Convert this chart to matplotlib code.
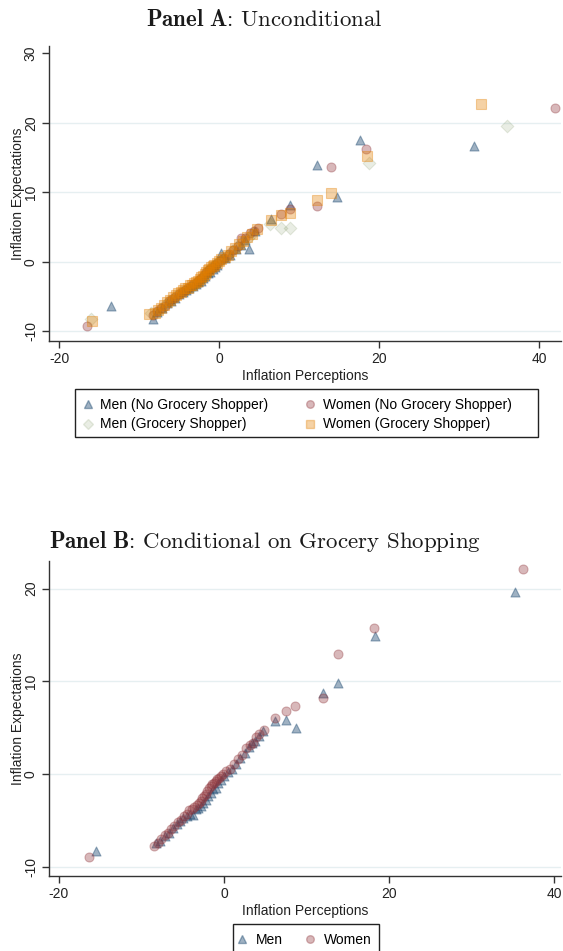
import matplotlib
matplotlib.use("Agg")
import matplotlib.pyplot as plt
from matplotlib.lines import Line2D
from matplotlib.patches import Rectangle

plt.rcParams['font.family'] = ['Liberation Sans', 'DejaVu Sans']
plt.rcParams['axes.unicode_minus'] = False
plt.rcParams['mathtext.fontset'] = 'cm'

# ---------------- Panel A data ----------------
a_men_ns_x = [-13.5, -8.2, -7.7, -7.1, -6.5, -6.0, -5.5, -5.0, -4.5, -4.1, -3.7, -3.3, -2.9, -2.6, -2.3,
              -2.0, -1.7, -1.4, -1.1, -0.8, -0.5, -0.2, 0.3, 0.8, 1.4, 2.1, 2.7, 3.2, 3.7, 4.5,
              6.5, 8.9, 12.3, 14.8, 17.6, 31.9]
a_men_ns_y = [-6.3, -8.3, -7.2, -6.6, -6.0, -5.6, -5.2, -4.7, -4.3, -4.0, -3.8, -3.5, -3.2, -2.9, -2.7,
              -2.4, -2.0, -1.6, -1.5, -1.0, -0.7, -0.4, 1.2, 0.5, 1.0, 1.8, 2.4, 3.1, 1.8, 4.4,
              6.2, 8.2, 14.0, 9.4, 17.6, 16.7]

a_women_ns_x = [-16.5, -8.2, -7.8, -7.3, -6.8, -6.3, -5.9, -5.5, -5.0, -4.6, -4.3, -3.9, -3.5, -3.2, -2.8,
                -2.5, -2.2, -1.9, -1.6, -1.3, -1.1, -0.8, -0.5, -0.2, 0.2, 0.6, 1.2, 1.8, 2.4, 2.8,
                3.3, 3.9, 4.4, 4.9, 7.8, 8.9, 12.2, 14.0, 18.4, 42.0]
a_women_ns_y = [-9.2, -7.7, -7.1, -6.7, -6.3, -5.7, -5.3, -5.0, -4.6, -4.3, -4.0, -3.8, -3.5, -3.2, -2.9,
                -2.6, -2.3, -1.9, -1.5, -1.2, -1.0, -0.7, -0.5, -0.2, 0.2, 0.5, 1.1, 1.7, 2.3, 3.4,
                3.5, 4.1, 4.5, 4.9, 6.9, 7.6, 8.1, 13.7, 16.2, 22.2]

a_men_gs_x = [-16.0, -8.5, -7.9, -7.3, -6.7, -6.2, -5.7, -5.2, -4.7, -4.3, -3.9, -3.5, -3.1, -2.7, -2.4,
              -2.1, -1.8, -1.5, -1.2, -0.9, -0.6, -0.3, 0.1, 0.5, 1.0, 1.6, 2.2, 2.9, 3.6, 4.3,
              6.4, 7.8, 8.9, 18.7, 36.0]
a_men_gs_y = [-8.3, -7.3, -7.4, -6.8, -6.2, -5.7, -5.3, -4.8, -4.4, -4.1, -3.8, -3.6, -3.3, -2.9, -2.6,
              -2.3, -1.9, -1.5, -1.1, -0.8, -0.5, -0.2, 0.1, 0.4, 0.9, 1.5, 2.1, 2.8, 3.5, 4.2,
              5.5, 4.85, 4.85, 14.2, 19.6]

a_women_gs_x = [-15.9, -8.7, -8.0, -7.6, -7.2, -6.9, -6.5, -6.1, -5.8, -5.4, -5.1, -4.8, -4.5, -4.2, -3.9,
                -3.6, -3.4, -3.1, -2.9, -2.6, -2.4, -2.2, -2.0, -1.8, -1.6, -1.4, -1.2, -1.0, -0.8, -0.6,
                -0.3, 0.0, 0.3, 0.7, 1.1, 1.5, 2.0, 2.5, 3.0, 3.5, 4.1, 4.7,
                6.5, 7.8, 8.9, 12.3, 14.0, 18.5, 32.8]
a_women_gs_y = [-8.5, -7.5, -7.3, -6.9, -6.6, -6.2, -5.8, -5.5, -5.1, -4.8, -4.5, -4.3, -4.1, -3.8, -3.7,
                -3.4, -3.3, -3.1, -2.9, -2.7, -2.5, -2.2, -2.0, -1.7, -1.4, -1.2, -1.0, -0.8, -0.6, -0.4,
                -0.1, 0.1, 0.4, 0.7, 1.0, 1.5, 2.0, 2.5, 3.0, 3.6, 4.0, 4.7,
                6.0, 6.8, 7.1, 8.9, 9.9, 15.2, 22.7]

# ---------------- Panel B data ----------------
b_men_x = [-15.5, -8.2, -7.8, -7.2, -6.7, -6.2, -5.7, -5.3, -4.9, -4.5, -4.1, -3.7, -3.4, -3.1, -2.8, -2.5,
           -2.2, -1.9, -1.6, -1.3, -1.0, -0.7, -0.4, 0.0, 0.5, 1.0, 1.5, 2.0, 2.5, 3.0, 3.4, 3.8,
           4.2, 4.7, 6.2, 7.5, 8.7, 12.0, 13.8, 18.3, 35.3]
b_men_y = [-8.3, -7.4, -7.2, -6.7, -6.3, -5.8, -5.4, -5.0, -4.7, -4.5, -4.3, -4.4, -3.8, -3.6, -3.4, -3.1,
           -2.8, -2.4, -2.0, -1.6, -1.5, -1.0, -0.6, -0.2, 0.2, 0.6, 1.1, 1.7, 2.3, 2.9, 3.4, 3.6,
           4.1, 4.7, 5.7, 5.8, 5.0, 8.8, 9.8, 14.9, 19.6]

b_women_x = [-16.3, -8.5, -8.0, -7.6, -7.2, -6.8, -6.4, -6.0, -5.6, -5.2, -4.8, -4.5, -4.2, -3.9, -3.6, -3.3,
             -3.0, -2.8, -2.6, -2.4, -2.2, -2.0, -1.8, -1.6, -1.4, -1.2, -1.0, -0.8, -0.6, -0.4, -0.1,
             0.3, 0.7, 1.2, 1.7, 2.2, 2.7, 3.1, 3.5, 3.9, 4.3, 4.8,
             6.2, 7.5, 8.6, 12.0, 13.8, 18.2, 36.3]
b_women_y = [-8.9, -7.7, -7.4, -7.0, -6.6, -6.3, -5.9, -5.6, -5.2, -4.9, -4.5, -4.3, -3.9, -3.7, -3.5, -3.3,
             -3.1, -2.9, -2.6, -2.4, -2.1, -1.8, -1.5, -1.3, -1.1, -0.9, -0.7, -0.5, -0.4, -0.2, 0.0,
             0.3, 0.6, 1.1, 1.6, 2.1, 2.8, 3.2, 3.4, 4.0, 4.3, 4.8,
             6.1, 6.8, 7.4, 8.2, 13.0, 15.8, 22.1]

labels_a = ['Men (No Grocery Shopper)', 'Men (Grocery Shopper)',
            'Women (No Grocery Shopper)', 'Women (Grocery Shopper)']
labels_b = ['Men', 'Women']

NAVY = '#1a476f'
MAROON = '#90353b'
FOREST = '#55752f'
DKORANGE = '#e37e00'

W, H = 563, 951
fig = plt.figure(figsize=(W / 100, H / 100), dpi=100)

S = 42


def style_axes(ax, yticks, xticks):
    ax.spines['top'].set_visible(False)
    ax.spines['right'].set_visible(False)
    for s in ('left', 'bottom'):
        ax.spines[s].set_color('#333333')
        ax.spines[s].set_linewidth(1.0)
    ax.set_yticks(yticks)
    ax.set_xticks(xticks)
    ax.set_yticklabels([str(t) for t in yticks], rotation=90, va='center')
    ax.tick_params(axis='both', direction='out', length=5, width=1, color='#333333',
                   labelsize=10, labelcolor='#222222', pad=3)
    ax.yaxis.grid(True, color='#e6eff1', linewidth=1.0)
    ax.xaxis.grid(False)
    ax.set_axisbelow(True)
    ax.set_xlabel('Inflation Perceptions', fontsize=10, color='#222222', labelpad=2)
    ax.set_ylabel('Inflation Expectations', fontsize=10, color='#222222', labelpad=-1)


def px_rect(x0, y0, x1, y1):
    return Rectangle((x0 / W, 1 - y1 / H), (x1 - x0) / W, (y1 - y0) / H,
                     transform=fig.transFigure, fill=False, edgecolor='#222222',
                     linewidth=1.0, zorder=5)


def handle(marker, color, alpha):
    return Line2D([], [], linestyle='none', marker=marker, markersize=5.5,
                  markerfacecolor=color, markeredgecolor=color, alpha=alpha)


# ---------------- Panel A ----------------
axA = fig.add_axes([49 / W, 1 - 341 / H, (561 - 49) / W, (341 - 46.5) / H])
axA.set_xlim(-21.25, 42.75)
axA.set_ylim(-11.4, 31)
style_axes(axA, [-10, 0, 10, 20, 30], [-20, 0, 20, 40])
axA.yaxis.get_gridlines()[-1].set_visible(False)

axA.scatter(a_men_ns_x, a_men_ns_y, s=S, marker='^', color=NAVY, alpha=0.42, linewidths=0.8)
axA.scatter(a_women_ns_x, a_women_ns_y, s=S, marker='o', color=MAROON, alpha=0.35, linewidths=0.8)
axA.scatter(a_men_gs_x, a_men_gs_y, s=S, marker='D', color=FOREST, alpha=0.13, linewidths=0.8)
axA.scatter(a_women_gs_x, a_women_gs_y, s=S, marker='s', color=DKORANGE, alpha=0.35, linewidths=0.8)

hA = [handle('^', NAVY, 0.42), handle('D', FOREST, 0.13),
      handle('o', MAROON, 0.35), handle('s', DKORANGE, 0.35)]
fig.legend(hA, labels_a, loc='center', bbox_to_anchor=(297 / W, 1 - 414.5 / H),
           ncol=2, fontsize=10, frameon=False,
           handlelength=0.8, handletextpad=0.5, columnspacing=2.6, labelspacing=0.42,
           borderpad=0.0)
fig.add_artist(px_rect(75, 389, 538, 437))

fig.text(0.47, 1 - 19 / H, r'$\mathbf{Panel\ A}$: Unconditional', ha='center', va='center',
         fontsize=16.5, family='cmr10', color='#1a1a1a')

# ---------------- Panel B ----------------
axB = fig.add_axes([49 / W, 1 - 876 / H, (561 - 49) / W, (876 - 560.8) / H])
axB.set_xlim(-21.2, 40.85)
axB.set_ylim(-10.97, 23)
style_axes(axB, [-10, 0, 10, 20], [-20, 0, 20, 40])

axB.scatter(b_men_x, b_men_y, s=S, marker='^', color=NAVY, alpha=0.42, linewidths=0.8)
axB.scatter(b_women_x, b_women_y, s=S, marker='o', color=MAROON, alpha=0.35, linewidths=0.8)

hB = [handle('^', NAVY, 0.42), handle('o', MAROON, 0.35)]
fig.legend(hB, labels_b, loc='center', bbox_to_anchor=(304 / W, 1 - 940 / H),
           ncol=2, fontsize=10, frameon=False,
           handlelength=0.8, handletextpad=0.6, columnspacing=1.6,
           borderpad=0.0)
fig.add_artist(px_rect(233, 924, 379, 960))

fig.text(0.47, 1 - 541 / H, r'$\mathbf{Panel\ B}$: Conditional on Grocery Shopping', ha='center',
         va='center', fontsize=16.5, family='cmr10', color='#1a1a1a')

fig.savefig('out.png', dpi=100)
